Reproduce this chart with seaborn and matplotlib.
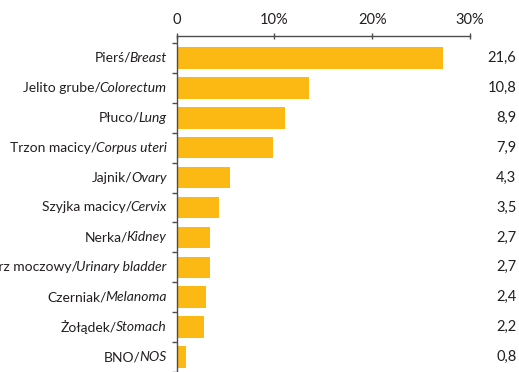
import matplotlib
matplotlib.use("Agg")
import matplotlib.pyplot as plt
import matplotlib.transforms as mtransforms
import seaborn as sns
import pandas as pd

# ---- data ----
names_pl = ["Pierś/", "Jelito grube/", "Płuco/", "Trzon macicy/", "Jajnik/",
            "Szyjka macicy/", "Nerka/", "Pęcherz moczowy/", "Czerniak/",
            "Żołądek/", "BNO/"]
names_en = ["Breast", "Colorectum", "Lung", "Corpus uteri", "Ovary",
            "Cervix", "Kidney", "Urinary bladder", "Melanoma",
            "Stomach", "NOS"]
bar_pct = [27.2, 13.5, 11.1, 9.9, 5.45, 4.35, 3.4, 3.4, 2.95, 2.75, 0.95]
value_labels = ["21,6", "10,8", "8,9", "7,9", "4,3", "3,5", "2,7", "2,7",
                "2,4", "2,2", "0,8"]
x_ticks = [0, 10, 20, 30]
x_tick_labels = ["0", "10%", "20%", "30%"]

sns.set_theme(style="white")
plt.rcParams["font.family"] = ["Lato", "DejaVu Sans"]

TXT = "#231f20"
BAR = "#fdb913"
SPINE = "#4d4d4d"
FS = 10.5
FS_LAB = 10.0

W, H = 519, 372
fig = plt.figure(figsize=(W / 100, H / 100), dpi=100)
ax = fig.add_axes([176.7 / W, 0.0, (470 - 176.7) / W, (372 - 36) / H])

df = pd.DataFrame({"cat": names_en, "pct": bar_pct})
sns.barplot(data=df, x="pct", y="cat", orient="h", color=BAR, width=0.72,
            saturation=1, ax=ax, linewidth=0)

ax.set_xlim(0, 30)
ax.set_ylim(10 + 14 / 30, -0.5 - 7 / 30)
ax.set_xlabel("")
ax.set_ylabel("")

# top axis
ax.xaxis.tick_top()
ax.set_xticks(x_ticks)
ax.set_xticklabels(x_tick_labels, fontsize=FS, color=TXT)
ax.tick_params(axis="x", direction="inout", length=5, width=1.0, color=SPINE, pad=4)

# y ticks at category boundaries
ax.set_yticks(range(len(names_en)))
ax.set_yticklabels([])
ax.tick_params(axis="y", which="major", length=0)
ax.set_yticks([i + 0.5 for i in range(-1, len(names_en))], minor=True)
ax.tick_params(axis="y", which="minor", direction="out", length=3.5, width=1.0,
               color=SPINE, left=True)

for s in ["right", "bottom"]:
    ax.spines[s].set_visible(False)
for s in ["top", "left"]:
    ax.spines[s].set_visible(True)
    ax.spines[s].set_color(SPINE)
    ax.spines[s].set_linewidth(1.0)

# category labels: regular Polish + italic English
renderer = fig.canvas.get_renderer()
label_trans = mtransforms.blended_transform_factory(fig.transFigure, ax.transData)
x_right = 166.5 / W
for i, (pl, en) in enumerate(zip(names_pl, names_en)):
    t_it = ax.text(x_right, i, en, transform=label_trans, ha="right", va="center",
                   fontsize=FS_LAB, style="italic", color=TXT, clip_on=False)
    bb = t_it.get_window_extent(renderer=renderer)
    ax.text((bb.x0 + 1.5) / W, i, pl, transform=label_trans, ha="right", va="center",
            fontsize=FS_LAB, color=TXT, clip_on=False)

# value column on the right
for i, v in enumerate(value_labels):
    ax.text(516.5 / W, i, v, transform=label_trans, ha="right", va="center",
            fontsize=FS, color=TXT, clip_on=False)

fig.savefig("out.png", dpi=100)
